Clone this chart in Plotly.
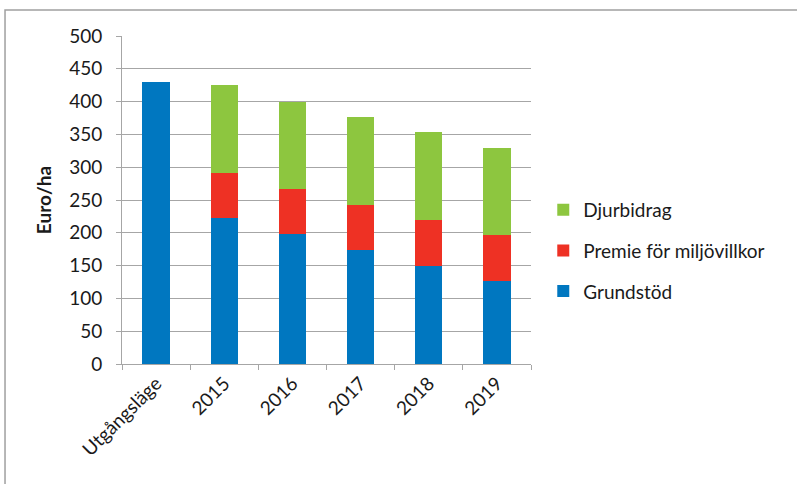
import plotly.graph_objects as go

categories = ["Utgångsläge", "2015", "2016", "2017", "2018", "2019"]
grundstod = [430, 222, 198, 174, 150, 126]
premie = [0, 69, 69, 69, 70, 70]
djurbidrag = [0, 134, 133, 133, 134, 134]

# (name, values, colour, legend rank) — stacked bottom to top, listed top to bottom
series = [
    ("Grundstöd", grundstod, "#0077C0", 3),
    ("Premie för miljövillkor", premie, "#EE3124", 2),
    ("Djurbidrag", djurbidrag, "#8DC63F", 1),
]

fig = go.Figure()
for name, vals, color, rank in series:
    fig.add_trace(go.Bar(
        x=categories, y=vals, name=name, legendgroup=name, legendrank=rank,
        marker=dict(color=color, line=dict(width=0)),
    ))

font_family = "Lato, 'Open Sans', sans-serif"
axis_grey = "#A6A6A6"

fig.update_layout(
    barmode="stack",
    bargap=0.6,
    width=797, height=484,
    margin=dict(l=122, r=266, t=36, b=120),
    plot_bgcolor="white", paper_bgcolor="white",
    font=dict(family=font_family, size=19, color="#1a1a1a"),
    legend=dict(
        x=1.03, y=0.345, xanchor="left", yanchor="middle",
        traceorder="grouped", tracegroupgap=13,
        font=dict(size=19), itemwidth=30,
    ),
    xaxis=dict(
        tickangle=-45, showline=True, linecolor=axis_grey, linewidth=1,
        ticks="outside", ticklen=5, tickcolor=axis_grey,
        tickson="boundaries", showgrid=False,
    ),
    yaxis=dict(
        range=[0, 500], dtick=50, showgrid=True, gridcolor=axis_grey, gridwidth=1,
        showline=True, linecolor=axis_grey, linewidth=1,
        ticks="outside", ticklen=5, tickcolor=axis_grey,
        ticklabelstandoff=10,
        zeroline=False,
        title=dict(text="<b>Euro/ha</b>", standoff=12, font=dict(size=19)),
    ),
    shapes=[dict(
        type="rect", xref="paper", yref="paper",
        x0=-0.286, x1=1.7, y0=-0.5, y1=1.079,
        line=dict(color="#A0A0A0", width=1.5), fillcolor="rgba(0,0,0,0)",
        layer="below",
    )],
)

fig.write_html("out.html")
